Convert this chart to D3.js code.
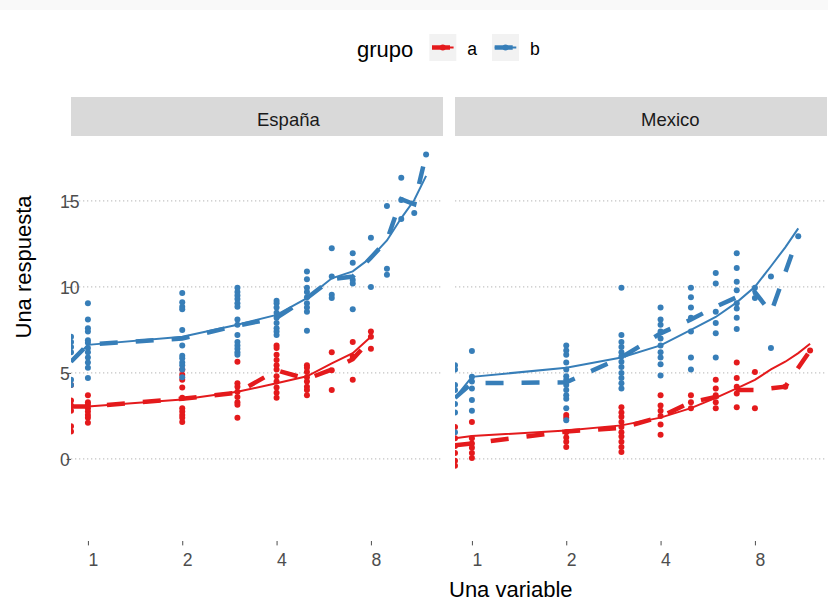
<!DOCTYPE html>
<html>
<head>
<meta charset="utf-8">
<script src="https://cdn.jsdelivr.net/npm/d3@7"></script>
<style>
  body { margin: 0; background: #fff; }
  svg { display: block; font-family: 'Liberation Sans', Arial, sans-serif; }
</style>
</head>
<body>
<div id="chart"></div>
<script>
// valores de x (0 cae en -Inf con la escala log, se dibuja en el borde)
const xValores = [0, 1, 2, 3, 4, 5, 6, 7, 8, 9, 10, 11, 12];
const xTicks = [1, 2, 4, 8];
const yTicks = [0, 5, 10, 15];
const yRangoDatos = [-3.7, 17.7];
const paneles = ['España', 'Mexico'];
const grupos = ['a', 'b'];
const colores = ['#E41A1C', '#377EB8'];

// puntos: un array de respuestas por cada valor de x
const espanaA = [
  [4.3, 3.4, 3.1, 2.8, 1.9, 1.6],
  [3.7, 3.3, 3.15, 2.95, 2.75, 2.55, 2.4, 2.1],
  [5.2, 4.9, 4.6, 4.15, 3.55, 2.95, 2.75, 2.55, 2.4, 2.15],
  [5.65, 4.4, 4.2, 3.9, 3.6, 3.3, 3.15, 2.4],
  [6.6, 6.45, 6.05, 5.75, 5.45, 5.2, 4.8, 4.5, 4.15, 3.85, 3.55],
  [5.45, 5.3, 5.05, 4.75, 4.5, 4.2, 4.0, 3.7],
  [6.2, 5.15, 4.0],
  [6.8, 5.95, 4.6],
  [7.4, 7.1, 6.4]
];
const espanaB = [
  [7.1, 6.8, 6.5, 6.2, 4.6, 4.3],
  [9.05, 8.1, 7.6, 7.4, 6.9, 6.75, 6.45, 6.2, 5.9, 5.6, 5.3, 4.7],
  [9.65, 9.1, 8.85, 8.7, 7.5, 6.6, 6.0, 5.85, 5.6, 5.45, 5.2, 4.75],
  [9.95, 9.7, 9.5, 9.3, 9.05, 8.85, 8.1, 7.8, 7.2, 6.8, 6.6, 6.4, 6.2, 6.05],
  [9.2, 9.05, 8.8, 8.5, 8.2, 7.9, 7.6, 7.4, 7.2],
  [10.9, 10.45, 9.95, 9.7, 9.4, 9.05, 8.8, 8.55, 7.45],
  [12.25, 10.6, 9.55, 9.35],
  [11.95, 11.4, 10.4, 10.2, 8.7],
  [12.85, 10.0],
  [14.7, 11.05, 10.7],
  [16.35, 15.05, 13.95],
  [14.3],
  [17.7]
];
const mexicoA = [
  [1.85, 1.2, 0.75, 0.35, -0.1, -0.4],
  [2.15, 1.2, 0.9, 0.65, 0.35, 0.05],
  [2.55, 2.4, 1.55, 1.25, 1.0, 0.7],
  [3.0, 2.7, 2.45, 2.15, 1.85, 1.55, 1.3, 1.0, 0.7, 0.4],
  [3.7, 3.1, 2.8, 2.5, 2.0, 1.4],
  [3.7, 3.3, 2.95],
  [4.6, 4.1, 3.7, 3.3, 2.95],
  [5.6, 4.7, 4.2, 3.8, 3.0],
  [5.05, 2.95],
  [],
  [4.2],
  [],
  [6.3]
];
const mexicoB = [
  [5.45, 5.2, 4.3, 4.0, 3.2, 2.7, 1.55],
  [6.28, 4.77, 4.5, 4.1, 3.43, 2.8],
  [6.6, 6.3, 6.05, 5.6, 5.2, 4.8, 4.6, 4.3, 4.0, 3.7, 3.5, 2.95, 2.25],
  [9.95, 7.2, 6.8, 6.5, 6.2, 5.95, 5.65, 5.35, 5.0, 4.7, 4.4, 4.1],
  [8.8, 8.1, 7.8, 7.4, 7.0, 6.6, 6.2, 5.9, 5.5, 4.85],
  [9.95, 9.4, 8.8, 8.2, 7.4, 5.9, 5.2],
  [10.8, 10.2, 8.55, 7.9, 7.3, 5.9],
  [11.95, 11.1, 10.3, 9.8, 9.05, 8.75, 8.2, 7.55],
  [9.95, 9.35],
  [10.6, 6.45],
  [],
  [12.95]
];

// linea discontinua (media por x) y linea continua (ajuste), por x
const espanaAMedia = [3.05, 3.05, 3.5, 3.85, 5.15, 4.65, 5.2, 5.8, 6.95];
const espanaBMedia = [5.65, 6.65, 7.0, 7.75, 8.2, 9.35, 10.45, 10.6, 11.7, 12.7, 15.1, 14.8, 17.7];
const mexicoAMedia = [0.8, 0.9, 1.6, 1.8, 2.45, 3.3, 3.6, 4.0, 4.0, null, 4.2, null, 6.3];
const mexicoBMedia = [3.55, 4.4, 4.45, 5.9, 7.3, 8.1, 8.85, 9.4, 9.7, 8.5, null, 12.95];
const espanaAAjuste = [3.05, 3.05, 3.45, 3.9, 4.4, 4.8, 5.55, 6.15, 7.1];
const espanaBAjuste = [5.65, 6.63, 7.1, 7.8, 8.37, 9.35, 10.5, 10.9, 11.7, 12.7, 14.0, 15.05, 16.45];
const mexicoAAjuste = [1.2, 1.33, 1.65, 1.95, 2.4, 2.95, 3.55, 4.1, 4.6, 5.2, 5.65, 6.15, 6.7];
const mexicoBAjuste = [3.55, 4.77, 5.3, 5.9, 6.6, 7.5, 8.25, 9.1, 10.0, 11.2, 12.3, 13.4];

const datosPanel = [
  { puntos: [espanaA, espanaB], medias: [espanaAMedia, espanaBMedia], ajustes: [espanaAAjuste, espanaBAjuste] },
  { puntos: [mexicoA, mexicoB], medias: [mexicoAMedia, mexicoBMedia], ajustes: [mexicoAAjuste, mexicoBAjuste] }
];

const width = 828;
const height = 606;
const panelIzq = 71;
const panelAncho = 372;
const panelSep = 12;
const panelArriba = 136;
const panelAbajo = 541;
const tiraAlto = 39;
const fuente = 'Liberation Sans, Arial, sans-serif';

const expandir = (lo, hi) => [lo - 0.05 * (hi - lo), hi + 0.05 * (hi - lo)];

const xLog = expandir(0, Math.log2(d3.max(xValores)));
const x = d3.scaleLog().base(2)
  .domain(xLog.map(v => Math.pow(2, v)))
  .range([0, panelAncho]);
const posX = v => v === 0 ? x.range()[0] : x(v); // -Inf al borde

const y = d3.scaleLinear()
  .domain(expandir(yRangoDatos[0], yRangoDatos[1]))
  .range([panelAbajo, panelArriba]);

const svg = d3.select('#chart')
  .append('svg')
  .attr('width', width)
  .attr('height', height);

svg.append('rect')
  .attr('width', width)
  .attr('height', 10)
  .attr('fill', '#f9f9f9');

const linea = d3.line()
  .x(d => posX(d.x))
  .y(d => y(d.y));

const serie = arr => arr
  .map((v, i) => ({ x: xValores[i], y: v }))
  .filter(d => d.y !== null && d.y !== undefined);

paneles.forEach((nombre, p) => {
  const izq = panelIzq + p * (panelAncho + panelSep);
  const g = svg.append('g')
    .attr('transform', `translate(${izq}, 0)`);

  // tira del facet
  g.append('rect')
    .attr('x', 0)
    .attr('y', panelArriba - tiraAlto)
    .attr('width', panelAncho)
    .attr('height', tiraAlto)
    .attr('fill', '#d9d9d9');
  g.append('text')
    .attr('x', panelAncho / 2)
    .attr('y', 126)
    .attr('font-size', 18.5)
    .attr('fill', '#1a1a1a')
    .text(nombre);

  // rejilla horizontal punteada
  g.selectAll('.grid')
    .data(yTicks)
    .enter()
    .append('line')
    .attr('class', 'grid')
    .attr('x1', 0)
    .attr('x2', panelAncho)
    .attr('y1', d => y(d))
    .attr('y2', d => y(d))
    .attr('stroke', '#c4c4c4')
    .attr('stroke-width', 1.2)
    .attr('stroke-dasharray', '1.3,2.7');

  // eje x
  const ejeX = g.append('g')
    .attr('transform', `translate(0, ${panelAbajo})`)
    .call(d3.axisBottom(x).tickValues(xTicks).tickFormat(d3.format('d')).tickSize(4.4).tickPadding(8));
  ejeX.select('.domain').remove();
  ejeX.selectAll('line').attr('stroke', '#4d4d4d');
  ejeX.selectAll('text')
    .attr('text-anchor', 'start')
    .attr('font-family', fuente)
    .attr('font-size', 17.6)
    .attr('fill', '#4d4d4d');

  if (p === 0) {
    const ejeY = g.append('g')
      .call(d3.axisLeft(y).tickValues(yTicks).tickSize(4.4).tickPadding(0));
    ejeY.select('.domain').remove();
    ejeY.selectAll('line').attr('stroke', '#4d4d4d');
    ejeY.selectAll('text')
      .attr('text-anchor', 'start')
      .attr('x', 60 - panelIzq)
      .attr('dy', '0.36em')
      .attr('font-family', fuente)
      .attr('font-size', 17.6)
      .attr('fill', '#4d4d4d');
  }

  const clipId = 'clip-' + p;
  g.append('clipPath')
    .attr('id', clipId)
    .append('rect')
    .attr('x', 0)
    .attr('y', panelArriba)
    .attr('width', panelAncho)
    .attr('height', panelAbajo - panelArriba);

  const cuerpo = g.append('g')
    .attr('clip-path', `url(#${clipId})`);

  const d = datosPanel[p];

  // puntos
  grupos.forEach((grp, k) => {
    const pts = [];
    d.puntos[k].forEach((vals, i) => vals.forEach(v => pts.push({ x: xValores[i], y: v })));
    cuerpo.selectAll('.pt-' + grp)
      .data(pts)
      .enter()
      .append('circle')
      .attr('class', 'pt-' + grp)
      .attr('cx', e => posX(e.x))
      .attr('cy', e => y(e.y))
      .attr('r', 3)
      .attr('fill', colores[k]);
  });

  // medias discontinuas
  grupos.forEach((grp, k) => {
    cuerpo.append('path')
      .datum(serie(d.medias[k]))
      .attr('d', linea)
      .attr('fill', 'none')
      .attr('stroke', colores[k])
      .attr('stroke-width', 4.5)
      .attr('stroke-dasharray', '18,18');
  });

  // ajuste continuo
  grupos.forEach((grp, k) => {
    cuerpo.append('path')
      .datum(serie(d.ajustes[k]))
      .attr('d', linea)
      .attr('fill', 'none')
      .attr('stroke', colores[k])
      .attr('stroke-width', 2);
  });
});

// titulos de ejes
const centroX = (panelIzq + panelIzq + 2 * panelAncho + panelSep) / 2;
svg.append('text')
  .attr('x', centroX)
  .attr('y', 597)
  .attr('font-size', 22)
  .attr('fill', '#000')
  .text('Una variable');
svg.append('text')
  .attr('transform', `translate(31, ${(panelArriba + panelAbajo) / 2}) rotate(-90)`)
  .attr('font-size', 22)
  .attr('fill', '#000')
  .text('Una respuesta');

// leyenda
const leyenda = svg.append('g');
leyenda.append('text')
  .attr('x', 357)
  .attr('y', 57)
  .attr('font-size', 22)
  .text('grupo');
const claveX = [429.3, 492];
grupos.forEach((grp, k) => {
  const kg = leyenda.append('g')
    .attr('transform', `translate(${claveX[k]}, 34)`);
  kg.append('rect')
    .attr('width', 27)
    .attr('height', 27)
    .attr('fill', '#f2f2f2');
  kg.append('line')
    .attr('x1', 2.7).attr('x2', 24.3)
    .attr('y1', 13.5).attr('y2', 13.5)
    .attr('stroke', colores[k])
    .attr('stroke-width', 4.5)
    .attr('stroke-dasharray', '18,18');
  kg.append('line')
    .attr('x1', 2.7).attr('x2', 24.3)
    .attr('y1', 13.5).attr('y2', 13.5)
    .attr('stroke', colores[k])
    .attr('stroke-width', 2);
  kg.append('circle')
    .attr('cx', 13.5)
    .attr('cy', 13.5)
    .attr('r', 3)
    .attr('fill', colores[k]);
  leyenda.append('text')
    .attr('x', claveX[k] + 38)
    .attr('y', 55)
    .attr('font-size', 17.6)
    .text(grp);
});
</script>
</body>
</html>
